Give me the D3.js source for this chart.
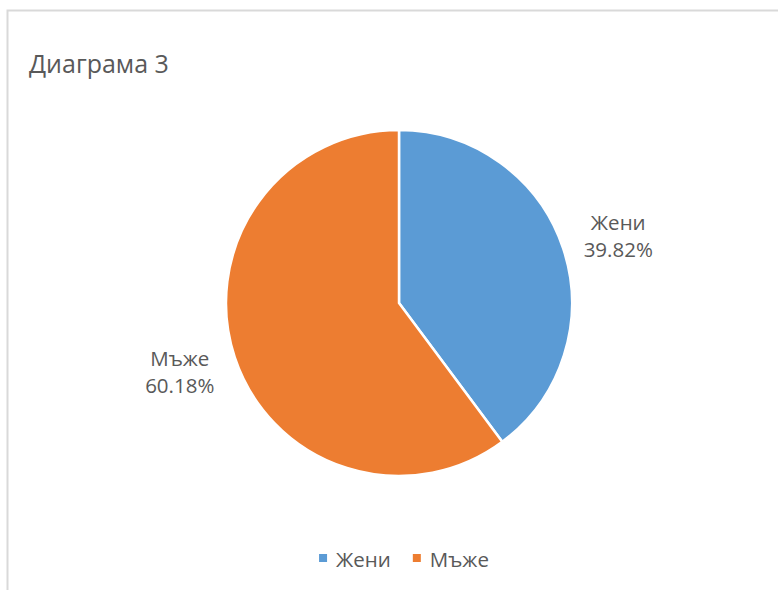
<!DOCTYPE html>
<html>
<head>
<meta charset="utf-8">
<script src="https://cdn.jsdelivr.net/npm/d3@7"></script>
<style>
  html, body { margin: 0; padding: 0; background: #fff; }
  svg { display: block; }
</style>
</head>
<body>
<svg id="chart" width="778" height="590"></svg>
<script>
// Share of respondents by sex
const categories = ["Жени", "Мъже"];
const values = [39.82, 60.18];
const colors = ["#5B9BD5", "#ED7D31"];
const title = "Диаграма 3";

const W = 778, H = 590;
const font = "'Open Sans', 'Noto Sans', sans-serif";
const textColor = "#595959";

const svg = d3.select("#chart");

// chart area frame (left and top edges visible)
svg.append("rect")
  .attr("x", 7.5).attr("y", 10.5)
  .attr("width", W + 20).attr("height", H + 20)
  .attr("fill", "#fff")
  .attr("stroke", "#D9D9D9")
  .attr("stroke-width", 2);

svg.append("text")
  .attr("x", 29).attr("y", 72.5)
  .attr("font-family", font)
  .attr("font-size", 25)
  .attr("fill", textColor)
  .text(title);

const cx = 399, cy = 303, r = 173;
const data = categories.map((c, i) => ({ name: c, value: values[i], color: colors[i] }));

const pie = d3.pie().sort(null).value(d => d.value);
const arcs = pie(data);
const arc = d3.arc().innerRadius(0).outerRadius(r);

const g = svg.append("g").attr("transform", `translate(${cx},${cy})`);
g.selectAll("path.slice")
  .data(arcs)
  .join("path")
  .attr("class", "slice")
  .attr("d", arc)
  .attr("fill", d => d.data.color)
  .attr("stroke", "#fff")
  .attr("stroke-width", 2.5)
  .attr("stroke-linejoin", "round");

// data labels outside each slice
const labelArc = d3.arc().innerRadius(r * 1.335).outerRadius(r * 1.335);
const lbl = g.selectAll("g.label")
  .data(arcs)
  .join("g")
  .attr("class", "label")
  .attr("transform", d => {
    const [x, y] = labelArc.centroid(d);
    return `translate(${x},${y})`;
  });
lbl.append("text")
  .attr("text-anchor", "middle")
  .attr("y", d => d.index === 0 ? 0 : -10)
  .attr("font-family", font)
  .attr("font-size", 20.5)
  .attr("fill", textColor)
  .text(d => d.data.name);
lbl.append("text")
  .attr("text-anchor", "middle")
  .attr("y", d => d.index === 0 ? 26.5 : 17)
  .attr("font-family", font)
  .attr("font-size", 20.5)
  .attr("fill", textColor)
  .text(d => d.data.value.toFixed(2) + "%");

// legend
const legend = svg.append("g").attr("transform", "translate(0,566.5)");
const items = legend.selectAll("g")
  .data(data)
  .join("g");
items.append("rect")
  .attr("width", 8).attr("height", 8)
  .attr("y", -12.5)
  .attr("fill", d => d.color);
items.append("text")
  .attr("x", 17)
  .attr("font-family", font)
  .attr("font-size", 20.5)
  .attr("fill", textColor)
  .text(d => d.name);
const gap = 22;
const widths = items.nodes().map(n => n.getBBox().width);
const total = widths.reduce((a, b) => a + b, 0) + gap * (widths.length - 1);
let xPos = 404 - total / 2;
items.attr("transform", (d, i) => {
  const x = xPos;
  xPos += widths[i] + gap;
  return `translate(${x},0)`;
});
</script>
</body>
</html>
